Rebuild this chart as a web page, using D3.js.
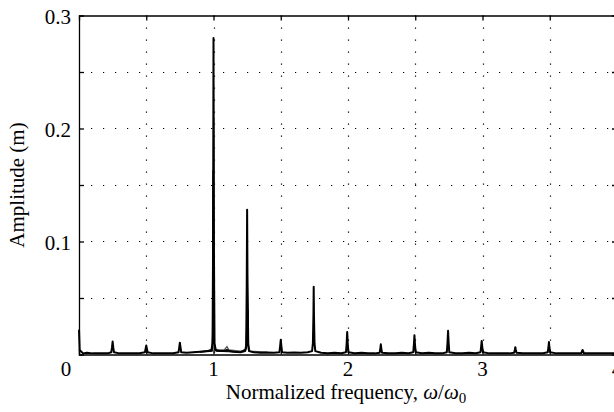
<!DOCTYPE html>
<html><head><meta charset="utf-8">
<script src="https://cdn.jsdelivr.net/npm/d3@7"></script>
<style>
html,body{margin:0;padding:0;background:#fff;}
</style></head>
<body>
<svg id="chart" width="614" height="412"></svg>
<script>
// ---- data ----
const freqA = [0,0.005,0.03,0.06,0.1,0.14,0.18,0.22,0.24,0.245,0.25,0.255,0.26,0.3,0.35,0.4,0.45,0.49,0.495,0.5,0.505,0.51,0.55,0.6,0.65,0.7,0.74,0.745,0.75,0.755,0.76,0.8,0.85,0.9,0.95,0.985,0.993,0.997,1.0,1.003,1.007,1.015,1.05,1.08,1.1,1.12,1.15,1.2,1.235,1.243,1.247,1.25,1.253,1.257,1.265,1.3,1.35,1.4,1.45,1.49,1.495,1.5,1.505,1.51,1.55,1.6,1.65,1.7,1.733,1.739,1.743,1.745,1.747,1.751,1.757,1.8,1.85,1.9,1.95,1.985,1.99,1.994,1.998,2.003,2.05,2.1,2.15,2.2,2.235,2.24,2.244,2.248,2.253,2.3,2.35,2.4,2.45,2.485,2.49,2.494,2.498,2.503,2.55,2.6,2.65,2.7,2.735,2.74,2.744,2.748,2.753,2.8,2.85,2.9,2.95,2.985,2.99,2.994,2.998,3.003,3.05,3.1,3.15,3.2,3.235,3.24,3.244,3.248,3.253,3.3,3.35,3.4,3.45,3.485,3.49,3.494,3.498,3.503,3.55,3.6,3.65,3.7,3.735,3.74,3.744,3.748,3.753,3.8,3.85,3.9,3.95,4.0];
const ampA  = [0.022,0.004,0.001,0.0015,0.001,0.0012,0.001,0.0012,0.002,0.006,0.0115,0.006,0.002,0.001,0.0012,0.001,0.0012,0.002,0.005,0.008,0.005,0.002,0.001,0.0012,0.001,0.0012,0.002,0.006,0.0105,0.006,0.002,0.0015,0.002,0.0025,0.003,0.004,0.01,0.1,0.28,0.1,0.01,0.004,0.003,0.003,0.004,0.003,0.0025,0.002,0.003,0.008,0.06,0.128,0.06,0.008,0.003,0.002,0.0015,0.0018,0.0015,0.002,0.007,0.013,0.007,0.002,0.0015,0.0018,0.0015,0.002,0.003,0.01,0.035,0.06,0.035,0.01,0.003,0.0015,0.0012,0.0015,0.0012,0.002,0.01,0.02,0.01,0.002,0.0012,0.0015,0.0012,0.001,0.0015,0.005,0.009,0.005,0.0015,0.0012,0.001,0.0015,0.0012,0.002,0.009,0.017,0.009,0.002,0.0012,0.0015,0.0012,0.001,0.002,0.011,0.021,0.011,0.002,0.0012,0.001,0.0015,0.0012,0.002,0.007,0.012,0.007,0.002,0.001,0.0012,0.001,0.001,0.0015,0.004,0.0065,0.004,0.0015,0.001,0.0012,0.001,0.0012,0.002,0.006,0.011,0.006,0.002,0.001,0.001,0.0012,0.001,0.0012,0.003,0.004,0.003,0.0012,0.001,0.001,0.0012,0.001,0.001];
const freqB = [0.85,0.95,0.99,0.995,1.002,1.008,1.02,1.08,1.1,1.115,1.2,1.24,1.247,1.252,1.258,1.27,1.4];
const ampB  = [0.002,0.003,0.004,0.02,0.21,0.01,0.004,0.004,0.007,0.004,0.003,0.004,0.02,0.07,0.01,0.003,0.002];
const freqC = [0.9,0.99,0.993,0.996,1.0,1.004,1.02,1.2,1.243,1.248,1.251,1.255,1.258,1.262,1.3];
const ampC  = [0.002,0.003,0.02,0.163,0.075,0.005,0.003,0.002,0.005,0.04,0.069,0.038,0.04,0.003,0.002];
const xTickLabels = [1,2,3,4];
const yTickLabels = [0.1,0.2,0.3];

// ---- layout ----
const svg = d3.select("#chart");
const FONT = "Liberation Serif";
const L = 79, R = 617, T = 15.5, B = 354.5;
const x = d3.scaleLinear().domain([0,4]).range([L,R]);
const y = d3.scaleLinear().domain([0,0.3]).range([B,T]);

// grid
const gx = d3.range(1,8).map(i=>i*0.5);
const gy = d3.range(1,6).map(i=>i*0.05);
const grid = svg.append("g").attr("stroke","#000").attr("stroke-width",1.2).attr("stroke-dasharray","1.2,10.8");
grid.selectAll(".gx").data(gx).join("line")
  .attr("x1",d=>Math.round(x(d))+0.5).attr("x2",d=>Math.round(x(d))+0.5).attr("y1",T).attr("y2",B);
grid.selectAll(".gy").data(gy).join("line")
  .attr("y1",d=>Math.round(y(d))+0.5).attr("y2",d=>Math.round(y(d))+0.5).attr("x1",L).attr("x2",R);

// axes with inward ticks
const xAxisB = d3.axisBottom(x).tickValues(gx.concat([0,4])).tickSize(-5).tickFormat("");
const xAxisT = d3.axisTop(x).tickValues(gx).tickSize(-5).tickFormat("");
const yAxisL = d3.axisLeft(y).tickValues(gy).tickSize(-5).tickFormat("");
const yAxisR = d3.axisRight(y).tickValues(gy).tickSize(-5).tickFormat("");
[[xAxisB,`translate(0,${B})`],[xAxisT,`translate(0,${T})`],[yAxisL,`translate(${L},0)`],[yAxisR,`translate(${R},0)`]].forEach(([ax,tr])=>{
  const g = svg.append("g").attr("transform",tr).call(ax);
  g.selectAll("path,line").attr("stroke","#000").attr("stroke-width",1.3);
});

// series
const line = d3.line().x(d=>x(d[0])).y(d=>y(d[1]));
const zip = (f,a)=>f.map((v,i)=>[v,a[i]]);
svg.append("path").datum(zip(freqB,ampB)).attr("d",line).attr("fill","none").attr("stroke","#555").attr("stroke-width",1.3);
svg.append("path").datum(zip(freqC,ampC)).attr("d",line).attr("fill","none").attr("stroke","#000").attr("stroke-width",1.2);
svg.append("path").datum(zip(freqA,ampA)).attr("d",line).attr("fill","none").attr("stroke","#000").attr("stroke-width",2).attr("stroke-linejoin","round");

// tick labels
const fs = 21;
svg.append("text").attr("font-family",FONT).attr("x",66).attr("y",376).attr("text-anchor","middle").attr("font-size",fs).text("0");
svg.selectAll(".xl").data(xTickLabels).join("text").attr("font-family",FONT)
  .attr("x",d=>x(d)).attr("y",376).attr("text-anchor","middle").attr("font-size",fs).text(d=>d);
svg.selectAll(".yl").data(yTickLabels).join("text").attr("font-family",FONT)
  .attr("x",71).attr("y",d=>y(d)+8).attr("text-anchor","end").attr("font-size",fs).text(d=>d);

// axis titles
const xt = svg.append("text").attr("font-family",FONT).attr("x",346).attr("y",399).attr("text-anchor","middle").attr("font-size",fs);
xt.append("tspan").text("Normalized frequency, ");
xt.append("tspan").attr("font-style","italic").text("ω");
xt.append("tspan").text("/");
xt.append("tspan").attr("font-style","italic").text("ω");
xt.append("tspan").attr("font-size",15).attr("dy",4).text("0");
svg.append("text").attr("font-family",FONT).attr("transform","translate(24,185) rotate(-90)").attr("text-anchor","middle").attr("font-size",fs).text("Amplitude (m)");
</script>
</body></html>
